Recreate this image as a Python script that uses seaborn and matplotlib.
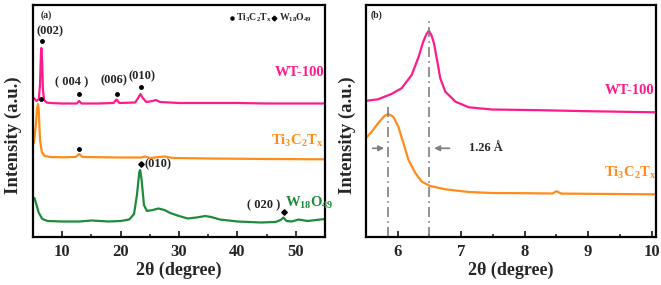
import numpy as np
import pandas as pd
import matplotlib
matplotlib.use("Agg")
import matplotlib.pyplot as plt
import seaborn as sns

sns.set_style("white")
plt.rcParams['font.family'] = ['Liberation Serif', 'DejaVu Sans']
plt.rcParams['font.weight'] = 'bold'
plt.rcParams['mathtext.fontset'] = 'custom'
plt.rcParams['mathtext.rm'] = 'Liberation Serif:bold'
plt.rcParams['mathtext.bf'] = 'Liberation Serif:bold'
plt.rcParams['mathtext.it'] = 'Liberation Serif:bold'

# ---------------- data: panel (a) ----------------
wt_x = [5.15, 5.6, 6.0, 6.2, 6.35, 6.43, 6.55, 6.7, 6.9, 7.3, 8, 10, 12.5, 12.9, 13.3, 16,
        18.8, 19.3, 19.8, 22.5, 23.0, 23.4, 23.8, 24.4, 25.5, 26.0, 26.8, 30, 35, 40, 45, 50, 55]
wt_y = [139, 136, 138, 152, 182, 189, 177, 147, 137, 134.5, 134, 133.5, 133.5, 136, 133.5, 133.5,
        134, 137.5, 134, 134.5, 139, 143, 139, 135, 136, 137, 135, 134, 134, 134, 133.5, 133.5, 133.5]

ti_x = [5.15, 5.5, 5.7, 5.86, 6.0, 6.2, 6.5, 7.0, 8, 10, 12.3, 12.9, 13.5, 20, 23.5, 24.2, 25,
        27.5, 29, 35, 45, 55]
ti_y = [94, 112, 129, 133, 125, 97, 85, 81, 80, 79.7, 80, 83, 80, 79.5, 79.5, 80.5, 79,
        80.5, 79, 78.5, 78, 77.7]

wo_x = [5.25, 5.6, 6.0, 6.6, 7.5, 10, 13, 15, 18, 20, 21.5, 22.3, 22.8, 23.2, 23.35, 23.6, 24.0,
        24.5, 25.5, 26.5, 27.5, 28.5, 30, 31.5, 33, 34.5, 35.5, 37, 40, 44, 46.5, 47.4, 47.9,
        48.4, 49.3, 50.5, 52, 55]
wo_y = [39, 32, 24, 18, 16, 15.5, 15.5, 16.5, 15.5, 16, 17.5, 23, 42, 65, 67, 57, 32,
        26, 27, 28.5, 27, 24, 21, 18.5, 19.5, 21, 20, 17.5, 15.5, 14.5, 15, 17, 19.5,
        16, 15.5, 17.5, 16, 18]

# ---------------- data: panel (b) ----------------
wtb_x = [5.48, 5.69, 5.90, 6.06, 6.22, 6.33, 6.40, 6.45, 6.49, 6.53, 6.57, 6.62, 6.67, 6.75,
         6.91, 7.12, 7.49, 8.25, 9.0, 10.07]
wtb_y = [136, 137.7, 143, 148.7, 162, 180.3, 195, 202.5, 206.3, 202, 194, 177, 158.7, 145.3,
         135.3, 129.7, 127.5, 126.8, 125.8, 124.7]

tib_x = [5.48, 5.59, 5.69, 5.79, 5.85, 5.93, 6.01, 6.09, 6.17, 6.28, 6.38, 6.51, 6.75, 7.12,
         7.49, 8.0, 8.44, 8.5, 8.58, 9.2, 10.07]
tib_y = [97.7, 105.3, 113.7, 121, 123, 120.3, 110.3, 93.7, 77, 63.7, 55.3, 51, 47.7, 45,
         44, 43.8, 43.5, 45.8, 43.4, 43.1, 42.7]

peak_ti = 5.85
peak_wt = 6.50

PINK = '#FF1A8C'
ORANGE = '#FF8C1A'
GREEN = '#1E8B3C'

fig = plt.figure(figsize=(6.61, 2.85), dpi=100)
ax1 = fig.add_axes([33/661, 48/285, 292/661, 232/285])
ax2 = fig.add_axes([366/661, 48/285, 290/661, 232/285])

lw = 1.6
for xs, ys, c in [(wt_x, wt_y, PINK), (ti_x, ti_y, ORANGE), (wo_x, wo_y, GREEN)]:
    df = pd.DataFrame({'x': xs, 'y': ys})
    sns.lineplot(data=df, x='x', y='y', ax=ax1, color=c, lw=lw, sort=False, estimator=None)
for xs, ys, c in [(wtb_x, wtb_y, PINK), (tib_x, tib_y, ORANGE)]:
    df = pd.DataFrame({'x': xs, 'y': ys})
    sns.lineplot(data=df, x='x', y='y', ax=ax2, color=c, lw=lw, sort=False, estimator=None)

ax1.set_xlim(5, 55)
ax1.set_ylim(0, 232)
ax2.set_xlim(5.5, 10.07)
ax2.set_ylim(0, 232)

ax1.set_xticks([10, 20, 30, 40, 50])
ax1.set_xticks([15, 25, 35, 45], minor=True)
ax2.set_xticks([6, 7, 8, 9, 10])
ax2.set_xticks([6.5, 7.5, 8.5, 9.5], minor=True)

for ax, lx in ((ax1, -0.038), (ax2, -0.034)):
    ax.set_yticks([])
    for s in ax.spines.values():
        s.set_linewidth(1.6)
        s.set_color('black')
    ax.tick_params(axis='x', direction='in', length=4, width=1.3, labelsize=12, pad=5, bottom=True)
    ax.tick_params(axis='x', which='minor', direction='in', length=2.5, width=1.2, bottom=True)
    for lab in ax.get_xticklabels():
        lab.set_fontweight('bold')
    ax.set_xlabel('2θ (degree)', fontsize=13, fontweight='bold', labelpad=1)
    ax.set_ylabel('Intensity (a.u.)', fontsize=13.5, fontweight='bold')
    ax.yaxis.set_label_coords(lx, 0.44)

# ---- annotations panel (a) ----
fs = 9
ax1.text(0.047, 0.957, '(a)', transform=ax1.transAxes, fontsize=7, ha='center', va='center')
ax1.plot([6.6], [196], 'o', color='k', ms=2.5)
ax1.text(7.9, 206, '(002)', fontsize=fs, ha='center', va='center')
ax1.plot([6.33], [138], 'o', color='k', ms=2.5)
ax1.plot([12.9], [143], 'o', color='k', ms=2.5)
ax1.text(11.6, 155, '( 004 )', fontsize=fs, ha='center', va='center')
ax1.plot([19.4], [142.7], 'o', color='k', ms=2.5)
ax1.text(18.8, 157, '(006)', fontsize=fs, ha='center', va='center')
ax1.plot([23.45], [149.7], 'o', color='k', ms=2.5)
ax1.text(23.6, 161, '(010)', fontsize=fs, ha='center', va='center')
ax1.text(50.6, 165, 'WT-100', color=PINK, fontsize=10.5, ha='center', va='center')
ax1.plot([12.9], [88], 'o', color='k', ms=2.5)
ax1.text(50.3, 96, r'$\mathbf{Ti_3C_2T_x}$', color=ORANGE, fontsize=10.5, ha='center', va='center')
ax1.plot([23.45], [73], 'D', color='k', ms=2.8)
ax1.text(24.1, 73, '(010)', fontsize=fs, ha='left', va='center')
ax1.plot([47.9], [25.3], 'D', color='k', ms=2.8)
ax1.text(47.4, 32, '( 020 )', fontsize=fs, ha='right', va='center')
ax1.text(48.1, 34.3, r'$\mathbf{W_{18}O_{49}}$', color=GREEN, fontsize=10.5, ha='left', va='center')

# legend-like text
ly = 0.943
ax1.plot([0.683], [ly], 'o', color='k', ms=2.2, transform=ax1.transAxes)
ax1.text(0.694, ly, r'$\mathbf{Ti_3C_2T_x}$', transform=ax1.transAxes, fontsize=7, ha='left', va='center')
ax1.plot([0.826], [ly], 'D', color='k', ms=2.4, transform=ax1.transAxes)
ax1.text(0.842, ly, r'$\mathbf{W_{18}O_{49}}$', transform=ax1.transAxes, fontsize=7, ha='left', va='center')

# ---- annotations panel (b) ----
ax2.text(0.035, 0.957, '(b)', transform=ax2.transAxes, fontsize=7, ha='center', va='center')
ax2.plot([peak_ti, peak_ti], [0, 133.7], color='gray', lw=1.2, ls=(0, (6, 2.5, 1, 2.5)))
ax2.plot([peak_wt, peak_wt], [0, 217], color='gray', lw=1.2, ls=(0, (6, 2.5, 1, 2.5)))
ax2.annotate('', xy=(peak_ti - 0.02, 88.7), xytext=(5.56, 88.7),
             arrowprops=dict(arrowstyle='-|>', color='gray', lw=1.2, mutation_scale=8))
ax2.annotate('', xy=(peak_wt + 0.03, 88.7), xytext=(6.86, 88.7),
             arrowprops=dict(arrowstyle='-|>', color='gray', lw=1.2, mutation_scale=8))
ax2.text(7.12, 88.7, '1.26 Å', fontsize=9, ha='left', va='center')
ax2.text(9.66, 147, 'WT-100', color=PINK, fontsize=10.5, ha='center', va='center')
ax2.text(9.66, 64, r'$\mathbf{Ti_3C_2T_x}$', color=ORANGE, fontsize=10.5, ha='center', va='center')

fig.savefig('out.png', dpi=100)
